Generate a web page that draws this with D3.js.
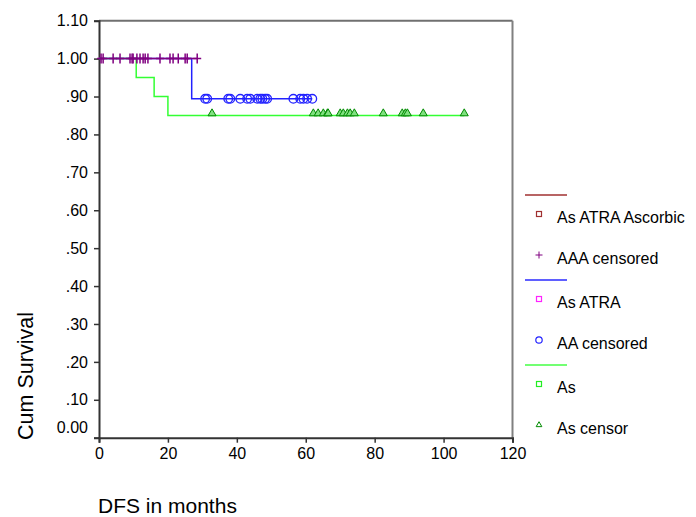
<!DOCTYPE html>
<html>
<head>
<meta charset="utf-8">
<script src="https://cdnjs.cloudflare.com/ajax/libs/d3/7.8.5/d3.min.js"></script>
<style>
  body { margin: 0; background: #fff; }
  text { font-family: Arial, "Liberation Sans", sans-serif; fill: #000; }
</style>
</head>
<body>
<div id="chart"></div>
<script>
// data (months, cumulative survival)
var aaaTime = [0, 28.5];
var aaaSurv = [1.0, 1.0];
var aaCensor = [30.8, 31.4, 37.5, 38.1, 41.0, 43.0, 43.9, 45.9, 46.8, 47.4, 48.2, 48.8, 56.4, 58.4, 59.3, 60.4, 61.9];
var aaaCensor = [0.6, 1.2, 4.1, 6.1, 9.0, 9.6, 9.9, 11.0, 11.9, 12.8, 13.4, 14.2, 17.7, 20.6, 21.5, 23.0, 25.0, 25.6, 28.5];
var aaTime = [0, 26.9, 61.9];
var aaSurv = [1.0, 0.894, 0.894];
var asTime = [0, 10.8, 16.0, 20.0, 106.0];
var asSurv = [1.0, 0.95, 0.90, 0.85, 0.85];
var asCensor = [32.8, 62.2, 63.6, 65.1, 66.3, 66.5, 70.0, 70.9, 72.1, 72.9, 74.1, 82.5, 88.0, 88.9, 89.5, 94.1, 106.0];

var xTicks = [0, 20, 40, 60, 80, 100, 120];
var yTicks = [0, 0.1, 0.2, 0.3, 0.4, 0.5, 0.6, 0.7, 0.8, 0.9, 1.0, 1.1];
var legendLabels = ["As ATRA Ascorbic", "AAA censored", "As ATRA", "AA censored", "As", "As censor"];

var width = 696, height = 517;
var svg = d3.select("#chart").append("svg")
    .attr("width", width)
    .attr("height", height);

var x = d3.scaleLinear().domain([0, 120]).range([99, 512.5]);
var y = d3.scaleLinear().domain([0, 1.1]).range([437.7, 20.7]);

// frame top / right
svg.append("line")
    .attr("x1", x(0)).attr("x2", x(120))
    .attr("y1", y(1.1)).attr("y2", y(1.1))
    .attr("stroke", "#707070").attr("stroke-width", 2);
svg.append("line")
    .attr("x1", x(120)).attr("x2", x(120))
    .attr("y1", y(1.1)).attr("y2", y(0))
    .attr("stroke", "#808080").attr("stroke-width", 2);

// axes
var fmtY = function(d) {
    if (d === 0) return "0.00";
    if (d >= 1) return d3.format(".2f")(d);
    return d3.format(".2f")(d).replace(/^0/, "");
};
var yAxis = svg.append("g")
    .attr("transform", "translate(" + x(0) + ",0)")
    .call(d3.axisLeft(y).tickValues(yTicks).tickFormat(fmtY).tickSize(5).tickPadding(6));
var xAxis = svg.append("g")
    .attr("transform", "translate(0," + y(0) + ")")
    .call(d3.axisBottom(x).tickValues(xTicks).tickSize(5).tickPadding(5));

[xAxis, yAxis].forEach(function(ax) {
    ax.select(".domain").attr("stroke", "#333").attr("stroke-width", 2);
    ax.selectAll(".tick line").attr("stroke", "#333").attr("stroke-width", 1.5);
    ax.selectAll(".tick text").attr("font-size", 16).attr("font-family", "Arial, 'Liberation Sans', sans-serif").attr("fill", "#000");
});
// 0.00 label sits a bit higher
yAxis.selectAll(".tick").filter(function(d) { return d === 0; })
    .select("text").attr("dy", "-0.3em");

// axis titles
svg.append("text")
    .attr("x", 98).attr("y", 513)
    .attr("font-size", 21)
    .text("DFS in months");
svg.append("text")
    .attr("transform", "translate(33," + 376 + ") rotate(-90)")
    .attr("text-anchor", "middle")
    .attr("font-size", 21.5)
    .text("Cum Survival");

// step lines
var line = d3.line()
    .x(function(d) { return x(d[0]); })
    .y(function(d) { return y(d[1]); })
    .curve(d3.curveStepAfter);

function survAt(times, surv, t) {
    var s = surv[0];
    for (var i = 0; i < times.length; i++) if (times[i] <= t) s = surv[i];
    return s;
}

var groups = [
    {time: asTime, surv: asSurv, color: "#33ff33"},
    {time: aaTime, surv: aaSurv, color: "#2222ff"},
    {time: aaaTime, surv: aaaSurv, color: "#800080"}
];
groups.forEach(function(g) {
    svg.append("path")
        .datum(d3.zip(g.time, g.surv))
        .attr("d", line)
        .attr("fill", "none")
        .attr("stroke", g.color)
        .attr("stroke-width", 1.5);
});

// censor marks
var tri = d3.symbol().type(d3.symbolTriangle).size(28);
svg.append("g").selectAll("path")
    .data(asCensor).enter().append("path")
    .attr("d", tri)
    .attr("transform", function(d) { return "translate(" + x(d) + "," + (y(survAt(asTime, asSurv, d)) - 2) + ")"; })
    .attr("fill", "#80e080")
    .attr("stroke", "#008a00")
    .attr("stroke-width", 1);

svg.append("g").selectAll("circle")
    .data(aaCensor).enter().append("circle")
    .attr("cx", function(d) { return x(d); })
    .attr("cy", function(d) { return y(survAt(aaTime, aaSurv, d)); })
    .attr("r", 4.3)
    .attr("fill", "none")
    .attr("stroke", "#2222ff")
    .attr("stroke-width", 1.3);

svg.append("g").selectAll("path")
    .data(aaaCensor).enter().append("path")
    .attr("d", "M-4,0H4M0,-5V5")
    .attr("transform", function(d) { return "translate(" + x(d) + "," + y(survAt(aaaTime, aaaSurv, d)) + ")"; })
    .attr("stroke", "#800080")
    .attr("stroke-width", 1.5);

// legend
var legend = svg.append("g");
var legLines = [{y: 195, color: "#a03030"}, {y: 280, color: "#2a2aff"}, {y: 365, color: "#44ff44"}];
legend.selectAll("line")
    .data(legLines).enter().append("line")
    .attr("x1", 525).attr("x2", 567)
    .attr("y1", function(d) { return d.y; })
    .attr("y2", function(d) { return d.y; })
    .attr("stroke", function(d) { return d.color; })
    .attr("stroke-width", 1.5);

var legY = [217, 258, 302, 343, 387, 428];
legend.selectAll("text")
    .data(legendLabels).enter().append("text")
    .attr("x", 557)
    .attr("y", function(d, i) { return legY[i]; })
    .attr("dy", "0.35em")
    .attr("font-size", 16)
    .text(function(d) { return d; });

var mx = 539;
var sq = [{i: 0, color: "#a03030"}, {i: 2, color: "#ff22ff"}, {i: 4, color: "#22ee22"}];
legend.selectAll("rect")
    .data(sq).enter().append("rect")
    .attr("x", mx - 2.5)
    .attr("y", function(d) { return legY[d.i] - 5.5; })
    .attr("width", 5).attr("height", 5)
    .attr("fill", "none")
    .attr("stroke", function(d) { return d.color; })
    .attr("stroke-width", 1.2);
legend.append("path")
    .attr("d", "M-3.5,0H3.5M0,-3.5V3.5")
    .attr("transform", "translate(" + mx + "," + (legY[1] - 3) + ")")
    .attr("stroke", "#800080").attr("stroke-width", 1);
legend.append("circle")
    .attr("cx", mx).attr("cy", legY[3] - 3).attr("r", 3.2)
    .attr("fill", "none").attr("stroke", "#2222ff").attr("stroke-width", 1.2);
legend.append("path")
    .attr("d", d3.symbol().type(d3.symbolTriangle).size(14))
    .attr("transform", "translate(" + mx + "," + (legY[5] - 3) + ")")
    .attr("fill", "none").attr("stroke", "#008a00").attr("stroke-width", 1);
</script>
</body>
</html>
